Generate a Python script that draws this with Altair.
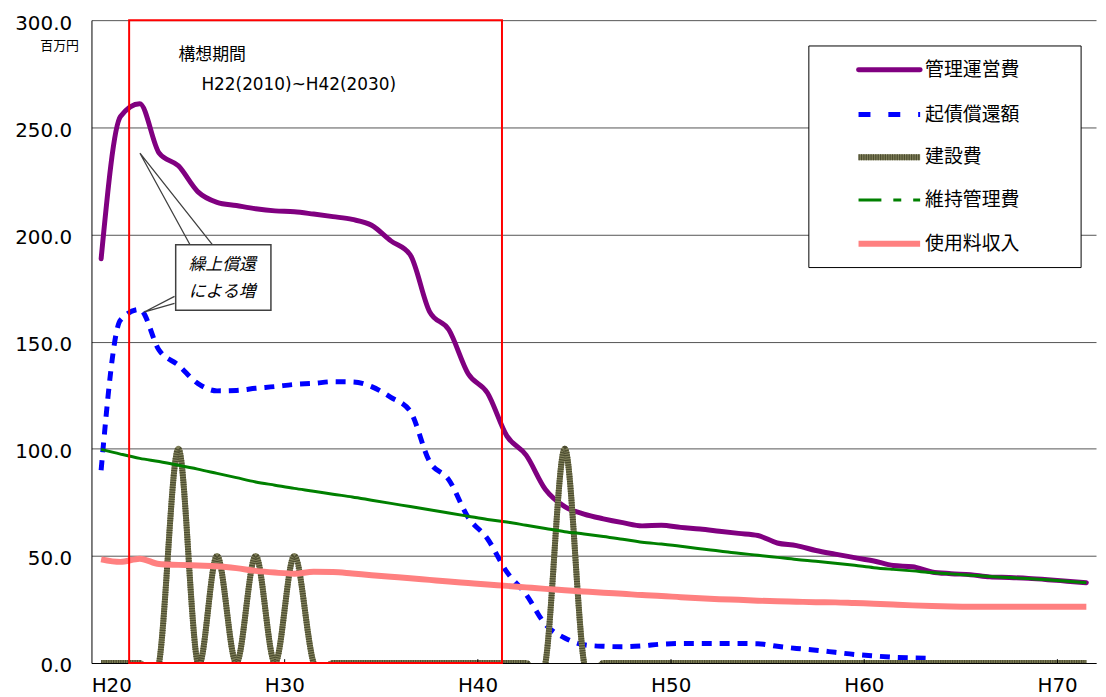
import altair as alt
import pandas as pd

# ---------------- data ----------------
YEARS = list(range(20, 72))            # H20 .. H71, one category per year
X_TICK_YEARS = [20, 30, 40, 50, 60, 70]
X_TICK_BOUNDS = [29.5, 39.5, 49.5, 59.5, 69.5]
Y_TICKS = [0, 50, 100, 150, 200, 250, 300]
SERIES = ["管理運営費", "起債償還額", "建設費", "維持管理費", "使用料収入"]

MGMT = [188.6, 255, 261, 238, 232, 220, 215, 213.5, 212, 211,
        210.6, 209.5, 208.3, 207, 204.3, 197, 190.5, 164, 155.5, 135,
        126, 106, 97, 81, 73, 69.5, 67.3, 65.5, 64, 64.3,
        63.3, 62.5, 61.5, 60.5, 59.5, 56, 54.8, 52.5, 50.8, 49.2,
        47.6, 45.5, 44.9, 42.5, 41.7, 41.2, 40.2, 39.9, 39.5, 38.9,
        38.2, 37.5]
DEBT = [90, 160, 165, 146, 139, 130.5, 127, 127.2, 128.2, 129,
        130, 130.5, 131.3, 131.2, 129, 124, 117.5, 94, 85.5, 68,
        58, 42.5, 32, 18, 11.7, 8.5, 7.8, 7.6, 8, 8.8,
        9.1, 9.1, 9.1, 9.1, 9, 7.8, 6.8, 6, 5, 4,
        3.3, 2.7, 2.4, 2.2]
CONSTR = [0, 0, 0, 0, 100, 0, 50, 0, 50, 0,
          50, 0, 0, 0, 0, 0, 0, 0, 0, 0,
          0, 0, 0, 0, 100, 0, 0, 0, 0, 0,
          0, 0, 0, 0, 0, 0, 0, 0, 0, 0,
          0, 0, 0, 0, 0, 0, 0, 0, 0, 0,
          0, 0]
MAINT = [99.7, 97.5, 95.5, 94, 92.3, 90.5, 88.5, 86.5, 84.5, 83,
         81.5, 80.2, 78.8, 77.5, 76, 74.5, 73, 71.5, 70, 68.5,
         67, 65.8, 64.3, 62.8, 61.3, 60.2, 59, 57.8, 56.4, 55.5,
         54.5, 53.3, 52.3, 51.2, 50.3, 49.3, 48.3, 47.5, 46.6, 45.6,
         44.5, 43.7, 43.0, 42.2, 41.6, 41, 40.4, 39.9, 39.4, 38.9,
         38.2, 37.5]
FEE = [48.4, 47.2, 48.7, 46.2, 45.8, 45.5, 45.2, 44.3, 43, 42.2,
       41.7, 42.6, 42.5, 41.8, 41, 40.3, 39.6, 38.8, 38, 37.3,
       36.6, 36, 35.3, 34.6, 34, 33.4, 32.8, 32.3, 31.7, 31.3,
       30.7, 30.2, 29.8, 29.5, 29.1, 28.8, 28.6, 28.4, 28.3, 28,
       27.7, 27.3, 26.9, 26.6, 26.4, 26.3, 26.3, 26.3, 26.3, 26.3,
       26.3, 26.3]

PERIOD_TITLE = "構想期間"
PERIOD_RANGE = "H22(2010)~H42(2030)"
CALLOUT = ["繰上償還", "による増"]
UNIT = "百万円"

CJK = "Noto Sans CJK JP"
NUM = "DejaVu Sans"

# ---------------- helpers ----------------
def frame(vals):
    return pd.DataFrame({"t": YEARS[:len(vals)], "v": vals})

XS = alt.Scale(domain=[19.5, 71.5], nice=False, zero=False)
YS = alt.Scale(domain=[0, 300], nice=False, zero=True)

x_axis = alt.Axis(
    values=X_TICK_YEARS, labelExpr="'H' + datum.value", ticks=False, grid=False,
    domainColor="black", domainWidth=1, labelFont=NUM, labelFontSize=20,
    labelColor="black", labelPadding=13, labelOffset=-10, labelFlush=15,
    title="",
)
y_axis = alt.Axis(
    values=Y_TICKS, format=".1f", grid=True, gridColor="#555555", gridWidth=1,
    ticks=False, domainColor="black", domainWidth=1,
    labelFont=NUM, labelFontSize=20, labelColor="black", labelPadding=20, labelOffset=3,
    title=UNIT, titleAngle=0, titleAlign="right", titleBaseline="middle",
    titleX=-13, titleY=26, titleFont=CJK, titleFontSize=13, titleFontWeight="normal",
    titleColor="black",
)

def X(field="t"):
    return alt.X(f"{field}:Q", scale=XS)

def Y(field="v"):
    return alt.Y(f"{field}:Q", scale=YS)

layers = []

# purple: 管理運営費 (carries the axes)
layers.append(alt.Chart(frame(MGMT)).mark_line(
    interpolate="monotone", clip=True, color="#800080", strokeWidth=5, strokeCap="round"
).encode(x=alt.X("t:Q", scale=XS, axis=x_axis), y=alt.Y("v:Q", scale=YS, axis=y_axis)))

# blue dashed: 起債償還額
layers.append(alt.Chart(frame(DEBT)).mark_line(
    interpolate="monotone", clip=True, color="#0000ff", strokeWidth=5, strokeDash=[10, 8]
).encode(x=X(), y=Y()))

# olive hatched: 建設費
layers.append(alt.Chart(frame(CONSTR)).mark_line(
    interpolate="cardinal", clip=True, color="#80805a", strokeWidth=6
).encode(x=X(), y=Y()))
layers.append(alt.Chart(frame(CONSTR)).mark_line(
    interpolate="cardinal", clip=True, color="#4c4c30", strokeWidth=6, strokeDash=[1.2, 1.2]
).encode(x=X(), y=Y()))

# green: 維持管理費
layers.append(alt.Chart(frame(MAINT)).mark_line(
    interpolate="monotone", clip=True, color="#008000", strokeWidth=3
).encode(x=X(), y=Y()))

# pink: 使用料収入
layers.append(alt.Chart(frame(FEE)).mark_line(
    interpolate="monotone", clip=True, color="#ff8080", strokeWidth=6
).encode(x=X(), y=Y()))

# small inward ticks on the category axis
ticks_df = pd.DataFrame({"t": X_TICK_BOUNDS, "v0": [0] * len(X_TICK_BOUNDS), "v1": [1.8] * len(X_TICK_BOUNDS)})
layers.append(alt.Chart(ticks_df).mark_rule(color="black", strokeWidth=1).encode(
    x=X(), y=Y("v0"), y2="v1:Q"))

# red 構想期間 box
box_df = pd.DataFrame({"t0": [21.45], "t1": [40.75], "v0": [0], "v1": [300]})
layers.append(alt.Chart(box_df).mark_rect(fill="transparent", stroke="#ff0000", strokeWidth=2).encode(
    x=X("t0"), x2="t1:Q", y=Y("v0"), y2="v1:Q"))

# period texts
ptxt = pd.DataFrame({"t": [24.0], "v": [283.8], "label": [PERIOD_TITLE]})
layers.append(alt.Chart(ptxt).mark_text(
    font=CJK, fontSize=17, align="left", baseline="middle", color="black"
).encode(x=X(), y=Y(), text="label:N"))
rtxt = pd.DataFrame({"t": [25.19], "v": [269.9], "label": [PERIOD_RANGE]})
layers.append(alt.Chart(rtxt).mark_text(
    font=NUM, fontSize=17, align="left", baseline="middle", color="black"
).encode(x=X(), y=Y(), text="label:N"))

# callout pointers
ptr = pd.DataFrame({
    "g": [1, 1, 1, 2, 2, 2],
    "o": [0, 1, 2, 0, 1, 2],
    "t": [24.63, 22.01, 25.81, 23.80, 22.21, 23.80],
    "v": [194.7, 237.9, 194.7, 171.1, 163.7, 167.8],
})
layers.append(alt.Chart(ptr).mark_line(color="#404040", strokeWidth=1.3).encode(
    x=X(), y=Y(), detail="g:N", order="o:Q"))

# callout box + text
cbox = pd.DataFrame({"t0": [23.86], "t1": [28.79], "v0": [164.6], "v1": [195.2]})
layers.append(alt.Chart(cbox).mark_rect(fill="white", stroke="#404040", strokeWidth=1.5).encode(
    x=X("t0"), x2="t1:Q", y=Y("v0"), y2="v1:Q"))
ctxt = pd.DataFrame({"t": [26.27, 26.27], "v": [185.5, 172.9], "label": CALLOUT})
layers.append(alt.Chart(ctxt).mark_text(
    font=CJK, fontSize=17, fontStyle="italic", align="center", baseline="middle", color="black"
).encode(x=X(), y=Y(), text="label:N"))

# ---------------- legend (drawn in pixel space) ----------------
one = alt.Data(values=[{}])
layers.append(alt.Chart(one).mark_rect(fill="white", stroke="black", strokeWidth=1).encode(
    x=alt.value(722), x2=alt.value(996), y=alt.value(26), y2=alt.value(249)))

LEG_Y = [50, 95, 138, 181, 225]
leg_styles = [
    [dict(color="#800080", strokeWidth=5, strokeCap="round")],
    [dict(color="#0000ff", strokeWidth=5, strokeDash=[12, 18])],
    [dict(color="#80805a", strokeWidth=6), dict(color="#4c4c30", strokeWidth=6, strokeDash=[1.2, 1.2])],
    [dict(color="#008000", strokeWidth=3, strokeDash=[23, 12, 8, 12])],
    [dict(color="#ff8080", strokeWidth=6)],
]
for name, ly, styles in zip(SERIES, LEG_Y, leg_styles):
    for st in styles:
        layers.append(alt.Chart(one).mark_rule(**st).encode(
            x=alt.value(772), x2=alt.value(834), y=alt.value(ly)))
    layers.append(alt.Chart(one).mark_text(
        text=name, font=CJK, fontSize=19, align="left", baseline="middle", color="black"
    ).encode(x=alt.value(839), y=alt.value(ly)))

chart = alt.layer(*layers).properties(
    width=1011, height=647,
    autosize=alt.AutoSizeParams(type="none"),
    padding={"left": 84, "top": 10, "right": 2, "bottom": 36},
).configure_view(strokeWidth=0)

chart.save("out.html", embed_options={"renderer": "svg", "actions": False})
